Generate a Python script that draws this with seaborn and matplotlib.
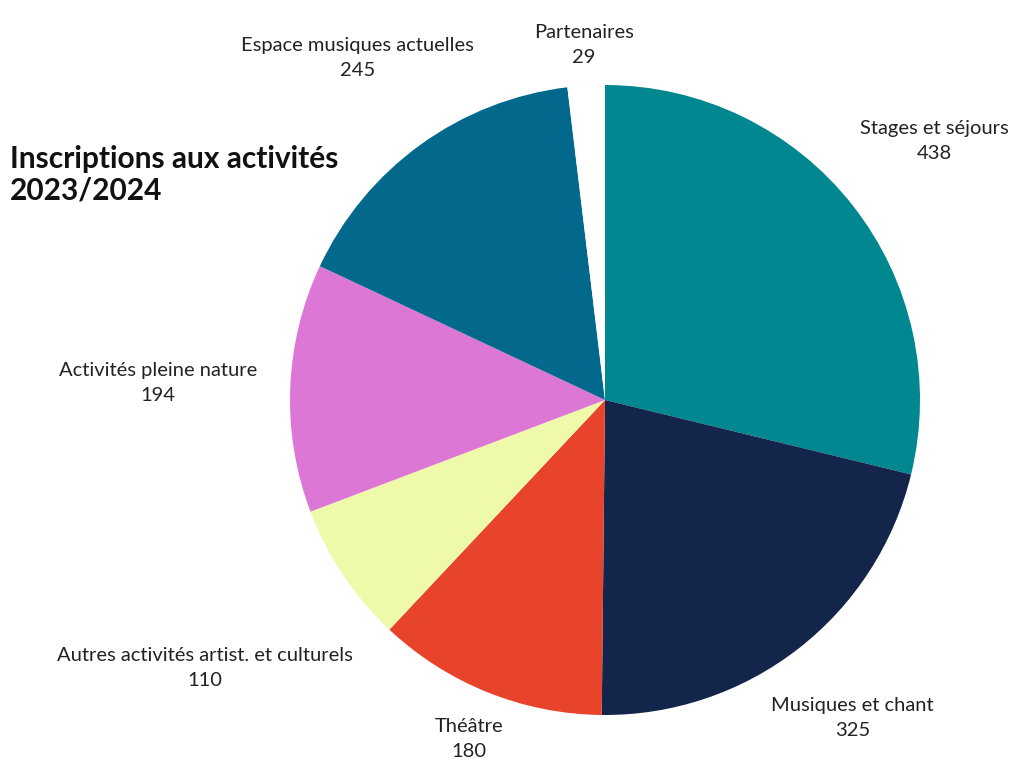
import numpy as np
import seaborn as sns
import matplotlib.pyplot as plt

# data
categories = ["Stages et séjours", "Musiques et chant", "Théâtre",
              "Autres activités artist. et culturels", "Activités pleine nature",
              "Espace musiques actuelles", "Partenaires"]
values = [438, 325, 180, 110, 194, 245, 29]
colors = ["#00878f", "#13254b", "#e8432b", "#eefaa9", "#dc77d6", "#02698c", "#ffffff"]

# how far out each label sits (in radii), to mimic the original placement
label_dist = [1.33, 1.28, 1.16, 1.53, 1.42, 1.34, 1.13]

sns.set_theme(style="white")
plt.rcParams['font.family'] = ['Lato', 'DejaVu Sans']

fig = plt.figure(figsize=(10.27, 7.67), dpi=100)
ax = fig.add_axes([0, 0, 1, 1])

wedges, _ = ax.pie(values, colors=colors, startangle=90, counterclock=False,
                   radius=1.0, wedgeprops=dict(linewidth=0))

for w, name, val, d in zip(wedges, categories, values, label_dist):
    ang = np.deg2rad((w.theta1 + w.theta2) / 2)
    ax.text(d * np.cos(ang), d * np.sin(ang), f"{name}\n{val}",
            ha="center", va="center", fontsize=14.5, color="#222222",
            linespacing=1.55)

# center of pie at pixel (605, 400), radius 315 px
ax.set_xlim(-605 / 315, (1027 - 605) / 315)
ax.set_ylim(-(767 - 400) / 315, 400 / 315)
ax.set_aspect("auto")
ax.axis("off")

fig.text(10 / 1027, 1 - 175 / 767, "Inscriptions aux activités\n2023/2024",
         ha="left", va="center", fontsize=21.5, fontweight="bold", color="#111111",
         linespacing=1.15)

fig.savefig("out.png", dpi=100, facecolor="white")
